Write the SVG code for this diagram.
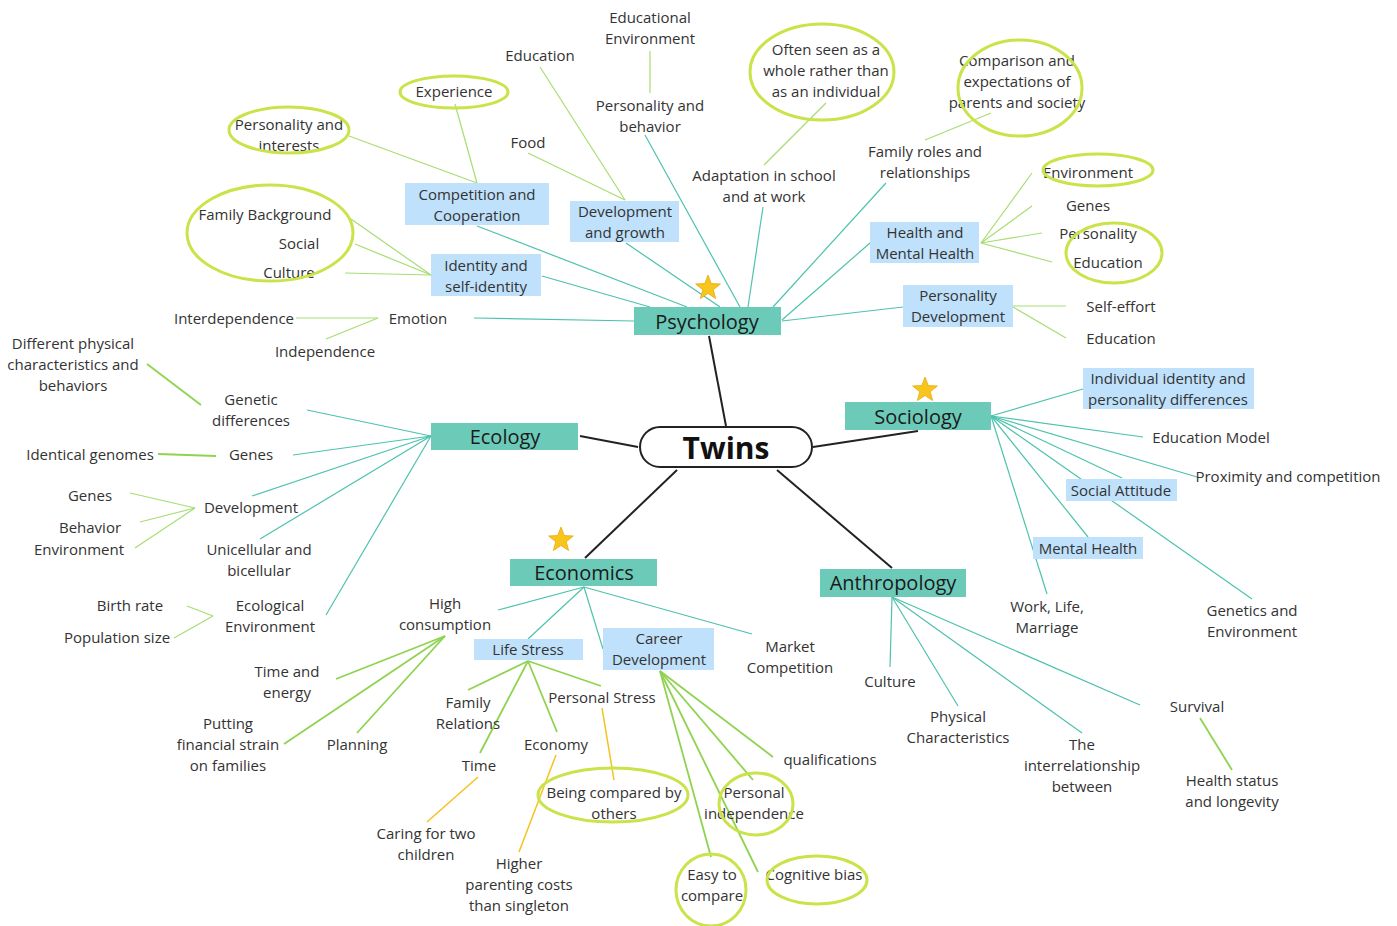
<svg xmlns="http://www.w3.org/2000/svg" width="1397" height="926" viewBox="0 0 1397 926">
<defs>
<style>
text{font-family:"Open Sans","Liberation Sans",sans-serif;font-size:15px;fill:#333;text-anchor:middle}
.main{fill:#6ccab9}
.mt{font-size:20px;fill:#1a1a1a}
.sub{fill:#bfe1fb}
.tl{stroke:#4dc2ad;stroke-width:1.2;fill:none}
.gl{stroke:#a8dd72;stroke-width:1.2;fill:none}
.gd{stroke:#8fd350;stroke-width:1.8;fill:none}
.ol{stroke:#f6c21e;stroke-width:1.5;fill:none}
.bl{stroke:#222;stroke-width:2;fill:none}
.ring{stroke:#cbe34a;stroke-width:3;fill:none}
</style>
<polygon id="star" points="0,-13 3.23,-4.45 12.36,-4.02 5.23,1.7 7.64,10.52 0,5.5 -7.64,10.52 -5.23,1.7 -12.36,-4.02 -3.23,-4.45" fill="#f7c51c" stroke="#e8a90f" stroke-width="0.8"/>
</defs>
<rect width="1397" height="926" fill="#fff"/>

<g id="connectors">
<!-- central -->
<line class="bl" x1="726" y1="426" x2="709" y2="336"/>
<line class="bl" x1="813" y1="447" x2="918" y2="431"/>
<line class="bl" x1="638" y1="447" x2="580" y2="436"/>
<line class="bl" x1="677" y1="470" x2="585" y2="558"/>
<line class="bl" x1="777" y1="470" x2="892" y2="568"/>
<!-- psychology -->
<line class="tl" x1="474" y1="318" x2="634" y2="321"/>
<line class="tl" x1="542" y1="276" x2="650" y2="307"/>
<line class="tl" x1="477" y1="226" x2="687" y2="307"/>
<line class="tl" x1="626" y1="243" x2="720" y2="307"/>
<line class="tl" x1="645" y1="135" x2="740" y2="307"/>
<line class="tl" x1="763" y1="207" x2="748" y2="307"/>
<line class="tl" x1="886" y1="183" x2="773" y2="307"/>
<line class="tl" x1="870" y1="243" x2="782" y2="320"/>
<line class="tl" x1="903" y1="307" x2="782" y2="321"/>
<line class="gl" x1="650" y1="51" x2="650" y2="93"/>
<line class="gl" x1="540" y1="67" x2="625" y2="200"/>
<line class="gl" x1="528" y1="153" x2="625" y2="200"/>
<line class="gl" x1="455" y1="104" x2="477" y2="183"/>
<line class="gl" x1="349" y1="136" x2="477" y2="183"/>
<line class="gl" x1="351" y1="219" x2="431" y2="275"/>
<line class="gl" x1="355" y1="244" x2="431" y2="275"/>
<line class="gl" x1="345" y1="273" x2="431" y2="275"/>
<line class="gl" x1="296" y1="318" x2="378" y2="318"/>
<line class="gl" x1="326" y1="339" x2="378" y2="318"/>
<line class="gl" x1="826" y1="103" x2="764" y2="165"/>
<line class="gl" x1="991" y1="113" x2="925" y2="140"/>
<line class="gl" x1="981" y1="243" x2="1032" y2="173"/>
<line class="gl" x1="981" y1="243" x2="1032" y2="206"/>
<line class="gl" x1="981" y1="243" x2="1042" y2="233"/>
<line class="gl" x1="981" y1="243" x2="1052" y2="262"/>
<line class="gl" x1="1013" y1="306" x2="1066" y2="306"/>
<line class="gl" x1="1013" y1="307" x2="1066" y2="338"/>
<!-- ecology -->
<line class="tl" x1="431" y1="436" x2="307" y2="410"/>
<line class="tl" x1="431" y1="436" x2="293" y2="455"/>
<line class="tl" x1="431" y1="436" x2="252" y2="496"/>
<line class="tl" x1="431" y1="436" x2="260" y2="539"/>
<line class="tl" x1="431" y1="436" x2="326" y2="615"/>
<line class="gd" x1="147" y1="364" x2="201" y2="405"/>
<line class="gd" x1="158" y1="454" x2="216" y2="456"/>
<line class="gl" x1="130" y1="493" x2="195" y2="508"/>
<line class="gl" x1="140" y1="522" x2="195" y2="508"/>
<line class="gl" x1="135" y1="548" x2="195" y2="508"/>
<line class="gl" x1="187" y1="606" x2="213" y2="616"/>
<line class="gl" x1="174" y1="638" x2="213" y2="616"/>
<!-- sociology -->
<line class="tl" x1="991" y1="416" x2="1083" y2="389"/>
<line class="tl" x1="991" y1="416" x2="1143" y2="437"/>
<line class="tl" x1="991" y1="416" x2="1197" y2="477"/>
<line class="tl" x1="991" y1="416" x2="1122" y2="478"/>
<line class="tl" x1="991" y1="416" x2="1088" y2="537"/>
<line class="tl" x1="991" y1="416" x2="1047" y2="594"/>
<line class="tl" x1="991" y1="416" x2="1252" y2="599"/>
<!-- economics -->
<line class="tl" x1="584" y1="587" x2="498" y2="610"/>
<line class="tl" x1="584" y1="587" x2="528" y2="639"/>
<line class="tl" x1="584" y1="587" x2="603" y2="649"/>
<line class="tl" x1="584" y1="587" x2="752" y2="634"/>
<line class="gd" x1="445" y1="636" x2="336" y2="679"/>
<line class="gd" x1="445" y1="636" x2="284" y2="744"/>
<line class="gd" x1="445" y1="636" x2="357" y2="733"/>
<line class="gd" x1="528" y1="661" x2="468" y2="690"/>
<line class="gd" x1="528" y1="661" x2="480" y2="753"/>
<line class="gd" x1="528" y1="661" x2="557" y2="732"/>
<line class="gd" x1="528" y1="661" x2="601" y2="686"/>
<line class="ol" x1="602" y1="708" x2="614" y2="780"/>
<line class="ol" x1="478" y1="777" x2="427" y2="822"/>
<line class="ol" x1="556" y1="755" x2="519" y2="852"/>
<line class="gd" x1="660" y1="671" x2="773" y2="757"/>
<line class="gd" x1="660" y1="671" x2="753" y2="780"/>
<line class="gd" x1="660" y1="671" x2="758" y2="872"/>
<line class="gd" x1="660" y1="671" x2="711" y2="857"/>
<!-- anthropology -->
<line class="tl" x1="892" y1="597" x2="890" y2="667"/>
<line class="tl" x1="892" y1="597" x2="958" y2="706"/>
<line class="tl" x1="892" y1="597" x2="1082" y2="733"/>
<line class="tl" x1="892" y1="597" x2="1140" y2="705"/>
<line class="gd" x1="1200" y1="718" x2="1232" y2="770"/>
</g>

<g id="twins">
<rect x="640" y="427" width="172" height="40" rx="20" fill="#fff" stroke="#222" stroke-width="2"/>
<text x="726" y="459" style="font-size:30px;font-weight:bold;fill:#111">Twins</text>
</g>
<g id="psychology">
<rect class="main" x="634" y="307" width="147" height="28"/>
<text class="mt" x="707" y="329">Psychology</text>
<use href="#star" x="708" y="288"/>
</g>
<g id="sociology">
<rect class="main" x="845" y="402" width="146" height="28"/>
<text class="mt" x="918" y="424">Sociology</text>
<use href="#star" x="925" y="390"/>
</g>
<g id="ecology">
<rect class="main" x="431" y="423" width="147" height="27"/>
<text class="mt" x="505" y="444">Ecology</text>
</g>
<g id="economics">
<rect class="main" x="510" y="559" width="147" height="27"/>
<text class="mt" x="584" y="580">Economics</text>
<use href="#star" x="561" y="540"/>
</g>
<g id="anthropology">
<rect class="main" x="820" y="569" width="146" height="28"/>
<text class="mt" x="893" y="590">Anthropology</text>
</g>

<g id="sub-boxes">
<g id="competition"><rect class="sub" x="405" y="183" width="144" height="42"/><text x="477" y="200">Competition and</text><text x="477" y="221">Cooperation</text></g>
<g id="devgrowth"><rect class="sub" x="570" y="201" width="109" height="41"/><text x="625" y="217">Development</text><text x="625" y="238">and growth</text></g>
<g id="identity"><rect class="sub" x="431" y="254" width="110" height="42"/><text x="486" y="271">Identity and</text><text x="486" y="292">self-identity</text></g>
<g id="healthmh"><rect class="sub" x="870" y="222" width="109" height="41"/><text x="925" y="238">Health and</text><text x="925" y="259">Mental Health</text></g>
<g id="persdev"><rect class="sub" x="903" y="285" width="110" height="42"/><text x="958" y="301">Personality</text><text x="958" y="322">Development</text></g>
<g id="indiv"><rect class="sub" x="1083" y="368" width="171" height="41"/><text x="1168" y="384">Individual identity and</text><text x="1168" y="405">personality differences</text></g>
<g id="socatt"><rect class="sub" x="1066" y="479" width="111" height="22"/><text x="1121" y="496">Social Attitude</text></g>
<g id="menth"><rect class="sub" x="1033" y="537" width="110" height="22"/><text x="1088" y="554">Mental Health</text></g>
<g id="lifestress"><rect class="sub" x="474" y="639" width="109" height="21"/><text x="528" y="655">Life Stress</text></g>
<g id="career"><rect class="sub" x="603" y="628" width="111" height="42"/><text x="659" y="644">Career</text><text x="659" y="665">Development</text></g>
</g>

<g id="labels">
<text x="650" y="23">Educational</text><text x="650" y="44">Environment</text>
<text x="540" y="61">Education</text>
<text x="650" y="111">Personality and</text><text x="650" y="132">behavior</text>
<text x="528" y="148">Food</text>
<text x="454" y="97">Experience</text>
<text x="289" y="130">Personality and</text><text x="289" y="151">interests</text>
<text x="265" y="220">Family Background</text>
<text x="299" y="249">Social</text>
<text x="289" y="278">Culture</text>
<text x="234" y="324">Interdependence</text>
<text x="418" y="324">Emotion</text>
<text x="325" y="357">Independence</text>
<text x="826" y="55">Often seen as a</text><text x="826" y="76">whole rather than</text><text x="826" y="97">as an individual</text>
<text x="764" y="181">Adaptation in school</text><text x="764" y="202">and at work</text>
<text x="1017" y="66">Comparison and</text><text x="1017" y="87">expectations of</text><text x="1017" y="108">parents and society</text>
<text x="925" y="157">Family roles and</text><text x="925" y="178">relationships</text>
<text x="1088" y="178">Environment</text>
<text x="1088" y="211">Genes</text>
<text x="1098" y="239">Personality</text>
<text x="1108" y="268">Education</text>
<text x="1121" y="312">Self-effort</text>
<text x="1121" y="344">Education</text>
<text x="73" y="349">Different physical</text><text x="73" y="370">characteristics and</text><text x="73" y="391">behaviors</text>
<text x="251" y="405">Genetic</text><text x="251" y="426">differences</text>
<text x="90" y="460">Identical genomes</text>
<text x="251" y="460">Genes</text>
<text x="90" y="501">Genes</text>
<text x="251" y="513">Development</text>
<text x="90" y="533">Behavior</text>
<text x="79" y="555">Environment</text>
<text x="259" y="555">Unicellular and</text><text x="259" y="576">bicellular</text>
<text x="130" y="611">Birth rate</text>
<text x="270" y="611">Ecological</text><text x="270" y="632">Environment</text>
<text x="117" y="643">Population size</text>
<text x="1211" y="443">Education Model</text>
<text x="1288" y="482">Proximity and competition</text>
<text x="1047" y="612">Work, Life,</text><text x="1047" y="633">Marriage</text>
<text x="1252" y="616">Genetics and</text><text x="1252" y="637">Environment</text>
<text x="445" y="609">High</text><text x="445" y="630">consumption</text>
<text x="790" y="652">Market</text><text x="790" y="673">Competition</text>
<text x="287" y="677">Time and</text><text x="287" y="698">energy</text>
<text x="228" y="729">Putting</text><text x="228" y="750">financial strain</text><text x="228" y="771">on families</text>
<text x="357" y="750">Planning</text>
<text x="468" y="708">Family</text><text x="468" y="729">Relations</text>
<text x="602" y="703">Personal Stress</text>
<text x="556" y="750">Economy</text>
<text x="479" y="771">Time</text>
<text x="614" y="798">Being compared by</text><text x="614" y="819">others</text>
<text x="426" y="839">Caring for two</text><text x="426" y="860">children</text>
<text x="519" y="869">Higher</text><text x="519" y="890">parenting costs</text><text x="519" y="911">than singleton</text>
<text x="830" y="765">qualifications</text>
<text x="754" y="798">Personal</text><text x="754" y="819">independence</text>
<text x="712" y="880">Easy to</text><text x="712" y="901">compare</text>
<text x="814" y="880">Cognitive bias</text>
<text x="890" y="687">Culture</text>
<text x="958" y="722">Physical</text><text x="958" y="743">Characteristics</text>
<text x="1082" y="750">The</text><text x="1082" y="771">interrelationship</text><text x="1082" y="792">between</text>
<text x="1197" y="712">Survival</text>
<text x="1232" y="786">Health status</text><text x="1232" y="807">and longevity</text>
</g>

<g id="highlights">
<ellipse class="ring" cx="454" cy="92" rx="54" ry="16"/>
<ellipse class="ring" cx="289" cy="130" rx="60" ry="23"/>
<ellipse class="ring" cx="270" cy="233" rx="83" ry="48"/>
<ellipse class="ring" cx="822" cy="72" rx="72" ry="48"/>
<ellipse class="ring" cx="1020" cy="88" rx="62" ry="48"/>
<ellipse class="ring" cx="1098" cy="170" rx="55" ry="16"/>
<ellipse class="ring" cx="1114" cy="253" rx="48" ry="30"/>
<ellipse class="ring" cx="613" cy="795" rx="75" ry="27"/>
<ellipse class="ring" cx="756" cy="804" rx="37" ry="31"/>
<ellipse class="ring" cx="711" cy="890" rx="35" ry="36"/>
<ellipse class="ring" cx="817" cy="880" rx="50" ry="24"/>
</g>
</svg>
